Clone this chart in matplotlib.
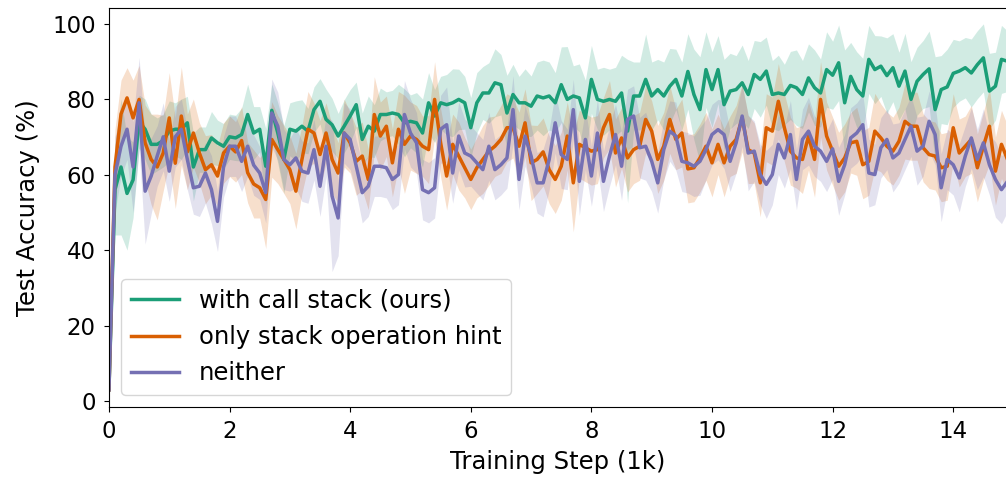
"""
Test accuracy over training steps, three variants
"""
from matplotlib import pyplot as plt
import numpy as np

# training step in 1k, one value every 100 steps
steps = np.arange(150) / 10

acc_ours = [3, 56, 62, 55, 58.6, 74, 72, 68, 68, 69,
            71.5, 72, 72, 73.7, 62, 66.6, 66.6, 69.7, 68.4, 67.5,
            70, 69.7, 70.6, 75.9, 71, 72, 62.2, 77, 71, 64,
            72, 71.5, 72.8, 71.5, 77.2, 79.4, 74.6, 73.2, 70.2, 72.8,
            75.5, 78.5, 69.3, 72.8, 71.5, 75.9, 75.9, 76.3, 75.9, 73.7,
            74.1, 73.7, 71, 79, 75.5, 79, 78.5, 79, 79.9, 79,
            72.4, 79, 81.6, 81.6, 84.3, 83.8, 76.3, 81.2, 79, 79,
            78.1, 80.8, 80.3, 80.8, 79, 83.8, 79.9, 80.8, 80.3, 75,
            85.2, 79.9, 79.4, 79.9, 79.4, 81.6, 71.5, 80.8, 80.8, 85.2,
            80.8, 82.5, 80.8, 83.4, 85.2, 80.8, 87.3, 81.2, 77.2, 87.8,
            82.5, 87.8, 78.5, 82.1, 82.5, 84.3, 81.2, 86.5, 85.2, 87.4,
            81.2, 81.6, 81.2, 83.6, 83, 81.2, 85.6, 83, 81.6, 87.8,
            86.3, 89.6, 79, 86, 82.5, 80.8, 90.5, 87.8, 88.7, 86.2,
            88.3, 83.4, 87.4, 79.9, 84.7, 86.5, 88, 77.2, 82.5, 83.2,
            86.8, 87.4, 88.3, 86.9, 89.1, 90.9, 82.1, 83.4, 90.5, 90]

acc_hint = [3, 62, 76, 80.3, 75, 79.9, 68.4, 64, 62, 65.7,
            75, 63, 75.5, 66, 71, 65.7, 61.3, 62.6, 59.6, 65.7,
            67.5, 66, 69, 60.5, 57.5, 56.5, 53.4, 69.3, 66.6, 64,
            61.3, 55.6, 64, 72, 71, 65.3, 71, 64, 60.4, 71,
            68.4, 63.5, 64.9, 58.7, 75.9, 70.2, 72.8, 63.1, 72, 68,
            70.2, 69.3, 67.5, 66.6, 79.9, 68.4, 59.6, 68, 64.9, 61.8,
            58.7, 61.8, 64, 66.2, 67.5, 69.3, 72.4, 72.4, 67.5, 73.7,
            63.1, 64, 66, 61.3, 58.7, 62.2, 70.2, 57.8, 68, 67.1,
            66.2, 66.6, 72.4, 75.9, 65.7, 69.7, 64.4, 66.6, 67.5, 74.6,
            71.5, 64, 67.5, 74.6, 69.3, 71, 61.5, 61.8, 64.4, 67.5,
            63.1, 68, 63.1, 67.5, 69.3, 75, 66.6, 65.7, 57.8, 72.4,
            71.5, 79.4, 72.4, 66.2, 64.4, 64, 70.2, 64, 79.9, 70.2,
            66.2, 62.2, 64.4, 68.4, 68.8, 62.6, 63.5, 71.5, 69.7, 67.5,
            66.2, 68.8, 74.1, 72.8, 72.8, 67.1, 65.3, 64.9, 61.8, 62.2,
            72.4, 65.7, 67.5, 69.3, 61.8, 67.5, 72.8, 60.9, 68, 64]

acc_neither = [3, 60, 67.5, 72, 62, 79, 55.6, 59.6, 64.9, 70,
               60.9, 70, 72, 64, 56.5, 56.9, 60.4, 56, 47.6, 62,
               67.5, 67.5, 63.5, 67.5, 62.5, 60.4, 55.2, 76.3, 72.8, 64,
               62.6, 64.4, 60.9, 60.4, 66.6, 56.9, 67.5, 54.3, 48.5, 71,
               69.3, 62.2, 55.2, 56.9, 62.2, 62.2, 61.8, 58.7, 60, 75.9,
               71, 68.4, 56, 55.2, 56.5, 72, 73.2, 60.4, 70.2, 65.7,
               64.9, 63.1, 61.3, 67.5, 61.3, 62.6, 64.4, 77.2, 58.7, 70.2,
               64.9, 57.8, 57.8, 64, 73.7, 65.3, 64, 77.2, 58.2, 69.3,
               59.6, 71, 58.2, 64.9, 70.6, 62.2, 74.6, 75.5, 67.1, 67.5,
               63.5, 57.8, 66.6, 71.5, 70.2, 63.5, 63.1, 62.2, 63.5, 66.6,
               70.6, 71.9, 70.6, 63.5, 68.4, 75.5, 65.7, 66.2, 60, 57.4,
               60, 68, 64.4, 70.6, 58.7, 69.3, 71.5, 67.5, 66.2, 63.5,
               66.8, 58.2, 62.6, 69.7, 71, 73.2, 60.4, 60, 67.1, 69.3,
               64.4, 65.7, 69.3, 72.8, 66.2, 67.5, 74.1, 70.6, 56.5, 64,
               62.6, 59.1, 64.9, 69.7, 64, 68.4, 62.6, 58.7, 56, 58.2]

# half width of the shaded band
spread_ours = [2, 12, 18, 15, 10, 7, 8, 8, 7, 7,
               8, 7, 8, 7, 9, 6, 6, 7, 6, 6,
               6, 6, 7, 8, 7, 6, 10, 7, 8, 9,
               7, 8, 7, 6, 6, 6, 8, 7, 6, 7,
               7, 6, 7, 8, 7, 7, 6, 6, 8, 9,
               7, 8, 9, 8, 7, 7, 8, 9, 8, 7,
               8, 8, 7, 8, 9, 8, 10, 8, 7, 9,
               8, 9, 10, 9, 8, 10, 14, 8, 9, 10,
               9, 8, 9, 8, 9, 10, 19, 9, 9, 12,
               9, 8, 9, 10, 8, 9, 10, 12, 14, 10,
               10, 9, 12, 10, 9, 10, 9, 9, 10, 9,
               9, 10, 8, 9, 10, 9, 9, 10, 9, 10,
               9, 10, 14, 9, 10, 10, 9, 9, 8, 10,
               9, 9, 10, 10, 9, 9, 10, 14, 9, 10,
               9, 8, 8, 9, 9, 9, 10, 9, 9, 8]

spread_hint = [2, 10, 9, 8, 10, 9, 10, 12, 14, 10,
               12, 12, 13, 10, 9, 8, 9, 8, 8, 8,
               8, 8, 9, 8, 9, 8, 13, 10, 9, 9,
               9, 10, 9, 10, 8, 9, 8, 9, 8, 9,
               8, 9, 9, 8, 10, 9, 8, 9, 10, 13,
               9, 9, 8, 9, 10, 9, 9, 8, 9, 8,
               8, 8, 9, 9, 8, 9, 9, 8, 9, 9,
               10, 9, 9, 9, 9, 9, 9, 13, 9, 9,
               9, 9, 8, 9, 9, 8, 9, 9, 9, 9,
               8, 9, 9, 9, 8, 9, 9, 9, 9, 9,
               9, 8, 9, 8, 9, 9, 9, 8, 9, 9,
               9, 10, 9, 9, 8, 9, 9, 10, 10, 9,
               9, 9, 9, 8, 9, 9, 9, 10, 9, 9,
               9, 9, 10, 9, 9, 9, 9, 9, 9, 9,
               9, 9, 8, 9, 9, 9, 10, 9, 9, 9]

spread_neither = [2, 10, 8, 8, 12, 12, 14, 10, 8, 9,
                  8, 8, 8, 8, 7, 8, 8, 9, 8, 8,
                  8, 8, 8, 8, 8, 7, 8, 9, 9, 8,
                  7, 8, 8, 8, 8, 8, 8, 20, 10, 8,
                  8, 7, 8, 8, 8, 8, 8, 8, 8, 9,
                  9, 8, 8, 8, 8, 9, 10, 8, 9, 9,
                  8, 8, 8, 9, 8, 8, 8, 9, 8, 8,
                  8, 8, 9, 8, 8, 9, 8, 8, 9, 8,
                  8, 9, 8, 8, 8, 9, 8, 8, 8, 9,
                  8, 8, 8, 8, 9, 8, 8, 8, 9, 8,
                  8, 8, 9, 8, 8, 8, 10, 8, 8, 9,
                  8, 8, 8, 9, 8, 8, 9, 8, 8, 8,
                  8, 9, 8, 8, 8, 8, 9, 8, 8, 8,
                  9, 8, 8, 8, 9, 8, 8, 8, 9, 8,
                  8, 9, 8, 8, 8, 9, 8, 10, 9, 8]

labels = ['with call stack (ours)', 'only stack operation hint', 'neither']
colors = ['#1b9e77', '#d95f02', '#7570b3']


def main():
    plt.rcParams['font.size'] = 17.5
    f = plt.figure(figsize=[10.06, 4.83], dpi=100)
    ax = f.add_axes([0.1083, 0.157, 0.8917, 0.8264])

    series = [(acc_ours, spread_ours), (acc_hint, spread_hint), (acc_neither, spread_neither)]
    for (acc, spread), label, color in zip(series, labels, colors):
        acc = np.array(acc)
        spread = np.array(spread)
        ax.fill_between(steps, acc - spread, acc + spread, color=color, alpha=0.2, linewidth=0)
        ax.plot(steps, acc, color=color, linewidth=2.5, label=label)

    ax.set_xlim(0, 14.875)
    ax.set_ylim(-1.6, 104.1)
    ax.set_xticks([0, 2, 4, 6, 8, 10, 12, 14])
    ax.set_yticks([0, 20, 40, 60, 80, 100])
    ax.tick_params(labelsize=16.5, pad=6)
    ax.spines['right'].set_visible(False)
    ax.set_xlabel('Training Step (1k)', labelpad=5)
    ax.set_ylabel('Test Accuracy (%)', labelpad=9)
    ax.legend(loc='lower left', fontsize=17.5, handlelength=2.0)

    f.savefig('out.png', dpi=100)


if __name__ == '__main__':
    main()
